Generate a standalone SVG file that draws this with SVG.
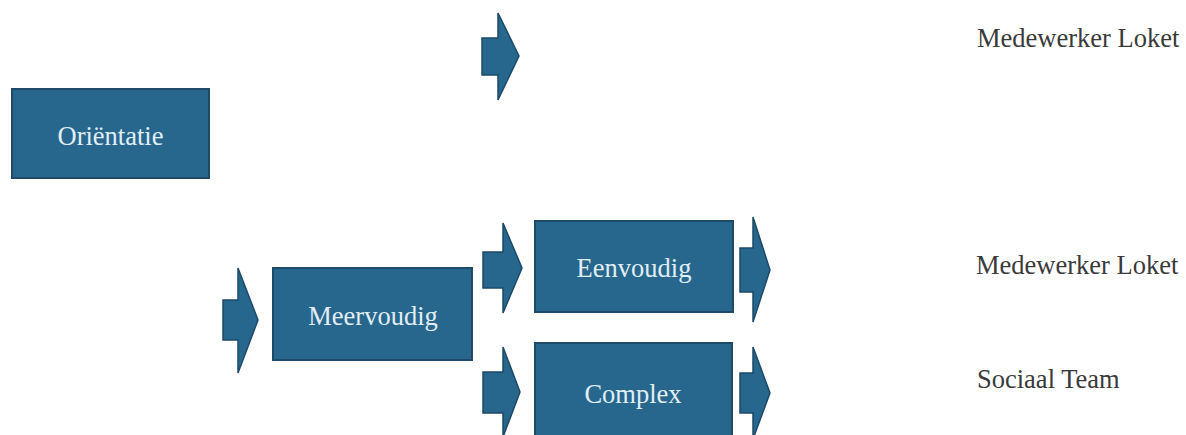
<svg xmlns="http://www.w3.org/2000/svg" width="1186" height="435" viewBox="0 0 1186 435">
<style>
.box{fill:#27678e;stroke:#1c4a68;stroke-width:2}
.arr{fill:#27678e;stroke:#1c4a68;stroke-width:1.5}
.bt{font-family:"Liberation Serif",serif;font-size:26.5px;fill:#e2eef5;text-anchor:middle}
.lt{font-family:"Liberation Serif",serif;font-size:26.5px;fill:#3a3a3a}
</style>
<rect width="1186" height="435" fill="#fff"/>
<g id="orientatie">
<rect class="box" x="12" y="89" width="197" height="89"/>
<text class="bt" x="110.5" y="145">Oriëntatie</text>
</g>
<g id="meervoudig">
<rect class="box" x="273" y="268" width="199" height="92"/>
<text class="bt" x="373" y="325">Meervoudig</text>
</g>
<g id="eenvoudig">
<rect class="box" x="535" y="221" width="198" height="91"/>
<text class="bt" x="634" y="277">Eenvoudig</text>
</g>
<g id="complex">
<rect class="box" x="535" y="343" width="197" height="100"/>
<text class="bt" x="633" y="403">Complex</text>
</g>
<g id="labels">
<text class="lt" x="977" y="47">Medewerker Loket</text>
<text class="lt" x="976" y="274">Medewerker Loket</text>
<text class="lt" x="977" y="388">Sociaal Team</text>
</g>
<g id="connectors">
<polygon class="arr" points="482,38 498,38 498,13 519,56 498,100 498,75 482,75"/>
<polygon class="arr" points="223,300 238,300 238,268 258,320 238,373 238,340 223,340"/>
<polygon class="arr" points="483,252 503,252 503,223 522,268 503,313 503,288 483,288"/>
<polygon class="arr" points="740,248 753,248 753,217 770,270 753,322 753,292 740,292"/>
<polygon class="arr" points="483,372 503,372 503,347 520,392 503,437 503,413 483,413"/>
<polygon class="arr" points="740,373 753,373 753,347 770,393 753,439 753,413 740,413"/>
</g>
</svg>
